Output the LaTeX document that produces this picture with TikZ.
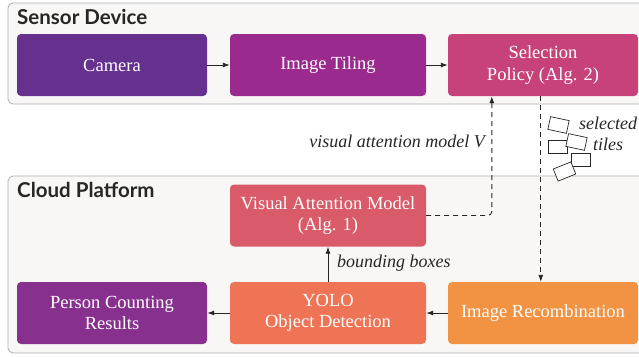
\documentclass[tikz,border=0pt]{standalone}
\usepackage{fontspec}
\setmainfont{Liberation Serif}
\setsansfont{Lato}
\usetikzlibrary{arrows.meta,calc}
\definecolor{cCam}{HTML}{66308F}
\definecolor{cTil}{HTML}{9B2A8E}
\definecolor{cSel}{HTML}{C8427A}
\definecolor{cVam}{HTML}{D95B6A}
\definecolor{cPer}{HTML}{87308E}
\definecolor{cYol}{HTML}{EE7455}
\definecolor{cRec}{HTML}{F29343}
\definecolor{panelfill}{HTML}{F8F7F5}
\definecolor{panelline}{HTML}{AEAEB4}
\definecolor{ink}{HTML}{262626}
\tikzset{
  blockbox/.style={rounded corners=4pt, minimum height=62pt, text=white, align=center,
     font=\fontsize{18.5}{21.5}\selectfont, inner sep=0pt},
  panelbox/.style={draw=panelline, fill=panelfill, rounded corners=5pt, line width=0.8pt},
  paneltitle/.style={anchor=west, text=ink, font=\fontsize{20.5}{23}\selectfont\sffamily\bfseries, inner sep=0pt},
  flow/.style={-{Latex[length=7pt,width=5pt]}, line width=0.9pt, draw=ink},
  dflow/.style={flow, dashed, dash pattern=on 5pt off 4pt},
  lbl/.style={text=ink, font=\fontsize{18}{20.5}\selectfont\itshape, inner sep=0pt},
  tile/.style={draw=ink, fill=white, line width=0.7pt, minimum width=19pt, minimum height=13pt, inner sep=0pt}
}
\begin{document}
\begin{tikzpicture}[x=1pt,y=-1pt]
\useasboundingbox (0,0) rectangle (639,356);
\clip (0,0) rectangle (639,356);
% panels
\draw[panelbox] (8,3) rectangle (660,104);
\node[paneltitle] (tsd) at (17,17) {Sensor Device};
\draw[panelbox] (8,176) rectangle (660,353);
\node[paneltitle] (tcp) at (17,190) {Cloud Platform};
% boxes
\node[blockbox, fill=cCam, minimum width=190pt] (cam) at (112,65) {Camera};
\node[blockbox, fill=cTil, minimum width=196pt] (til) at (328,65) {Image Tiling};
\node[blockbox, fill=cSel, minimum width=190pt] (sel) at (543,65) {Selection\\Policy (Alg. 2)};
\node[blockbox, fill=cVam, minimum width=196pt] (vam) at (328,215.5) {Visual Attention Model\\(Alg. 1)};
\node[blockbox, fill=cPer, minimum width=190pt] (per) at (112,313) {Person Counting\\Results};
\node[blockbox, fill=cYol, minimum width=196pt] (yol) at (328,313) {YOLO\\Object Detection};
\node[blockbox, fill=cRec, minimum width=190pt] (rec) at (543,313) {Image Recombination};
% arrows
\draw[flow] (cam) -- (til);
\draw[flow] (til) -- (sel);
\draw[flow] (rec) -- (yol);
\draw[flow] (yol) -- (per);
\draw[flow] (yol.north) -- (vam.south);
\draw[dflow, rounded corners=4pt] (vam.east) -| ([xshift=44pt]sel.south west);
\draw[dflow] ([xshift=93pt]sel.south west) -- ([xshift=93pt]rec.north west);
% labels
\node[lbl, anchor=east] (lva) at (485,141) {visual attention model \textit{V}};
\node[lbl, anchor=west] (lbb) at (337,263) {bounding boxes};
\node[lbl, align=center] (lst) at (608,134) {selected\\tiles};
% tiles
\node[tile, rotate=-12] (t1) at (558.5,125) {};
\node[tile] (t2) at (558,146.5) {};
\node[tile, rotate=-12] (t3) at (576.5,142) {};
\node[tile] (t4) at (580.5,160) {};
\node[tile, rotate=22] (t5) at (564.5,171.5) {};
\end{tikzpicture}
\end{document}
